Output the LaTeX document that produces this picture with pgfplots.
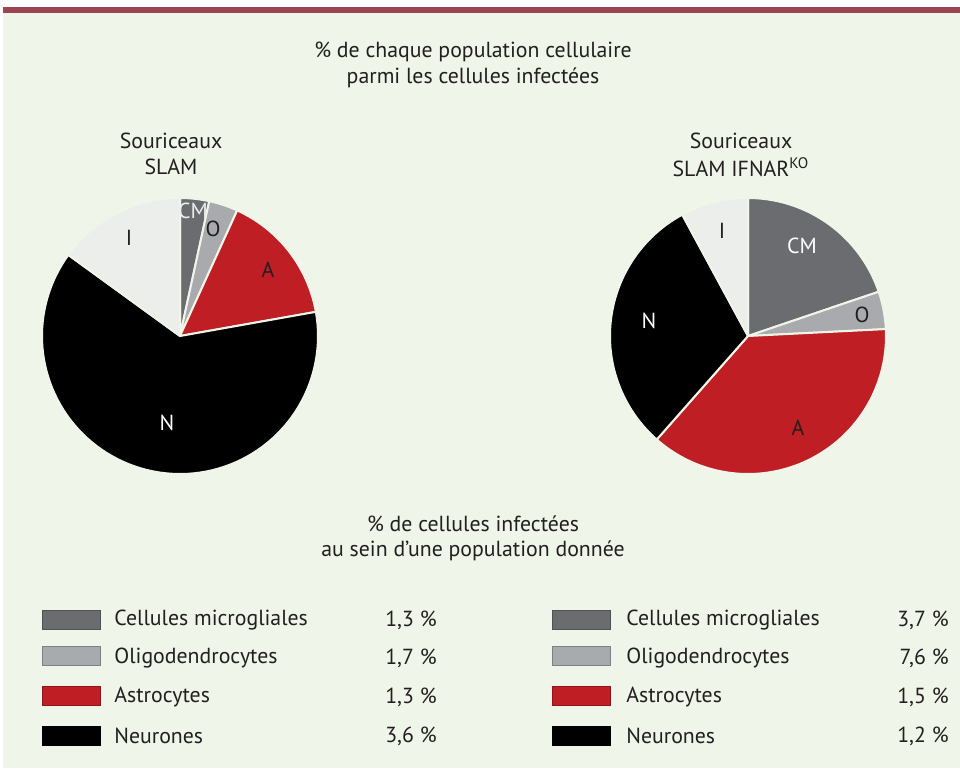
\documentclass[border=0pt]{standalone}
\usepackage{pgfplots}
\pgfplotsset{compat=1.18}
\usepackage{fontspec}
\setmainfont{PT Sans}
\definecolor{bg}{HTML}{EFF5E8}
\definecolor{topbar}{HTML}{9A4652}
\definecolor{cm}{HTML}{6B6C70}
\definecolor{ol}{HTML}{A8AAAD}
\definecolor{as}{HTML}{BE1E24}
\definecolor{ne}{HTML}{000000}
\definecolor{inf}{HTML}{ECEEEB}
\definecolor{txt}{HTML}{231F20}
% slice: cx, cy, r, start angle, end angle (deg, clockwise from top), colour
\newcommand{\slice}[6]{\addplot[fill=#6, draw=bg, line width=1pt, line join=round, domain=#4:#5, samples=90, variable=\t] ({#1+#3*sin(\t)},{#2-#3*cos(\t)}) -- (axis cs:#1,#2) -- cycle;}
% legend box: y top, x left, colour
\newcommand{\lbox}[3]{\addplot[fill=#3, draw=#3!75!black, line width=0.4pt] coordinates {(#2,#1) (#2+58,#1) (#2+58,#1+19) (#2,#1+19)} -- cycle;}
\begin{document}
\begin{tikzpicture}
\begin{axis}[width=480pt, height=384pt, scale only axis, xmin=0, xmax=960, ymin=0, ymax=768, y dir=reverse, hide axis, clip=false]
\fill[white] (axis cs:0,0) rectangle (axis cs:960,768);
\fill[bg] (axis cs:3,13) rectangle (axis cs:960,768);
\fill[topbar] (axis cs:3,7) rectangle (axis cs:960,13);
% Left pie (SLAM): CM 3.4, O 3.4, A 15.4, N 62.8, I 15.0 (%)
\slice{180}{336}{138}{0}{12.24}{cm}
\slice{180}{336}{138}{12.24}{24.48}{ol}
\slice{180}{336}{138}{24.48}{79.92}{as}
\slice{180}{336}{138}{79.92}{306}{ne}
\slice{180}{336}{138}{306}{360}{inf}
% Right pie (SLAM IFNAR KO): CM 19.8, O 4.4, A 37.3, N 30.6, I 7.9 (%)
\slice{748}{336}{138}{0}{71.28}{cm}
\slice{748}{336}{138}{71.28}{87.12}{ol}
\slice{748}{336}{138}{87.12}{221.4}{as}
\slice{748}{336}{138}{221.4}{331.56}{ne}
\slice{748}{336}{138}{331.56}{360}{inf}
% legend boxes
\lbox{610}{42}{cm}
\lbox{646}{42}{ol}
\lbox{686}{42}{as}
\lbox{726}{42}{ne}
\lbox{610}{552}{cm}
\lbox{646}{552}{ol}
\lbox{686}{552}{as}
\lbox{726}{552}{ne}
\begin{scope}[every node/.style={font=\fontsize{10.9}{13}\selectfont, text=txt, inner sep=0pt}]
\node at (axis cs:473,52) {\% de chaque population cellulaire};
\node at (axis cs:473,78) {parmi les cellules infectées};
\node at (axis cs:171,141) {Souriceaux};
\node at (axis cs:171,167) {SLAM};
\node at (axis cs:741,141) {Souriceaux};
\node at (axis cs:741,167) {SLAM IFNAR\textsuperscript{KO}};
\node at (axis cs:473,524) {\% de cellules infectées};
\node at (axis cs:473,551) {au sein d’une population donnée};
% pie labels
\node[text=inf] at (axis cs:193,211) {CM};
\node at (axis cs:213,229) {O};
\node at (axis cs:268,270) {A};
\node[text=white] at (axis cs:167,423) {N};
\node at (axis cs:129,238) {I};
\node[text=white] at (axis cs:802,246) {CM};
\node at (axis cs:862,315) {O};
\node at (axis cs:798,428) {A};
\node[text=white] at (axis cs:649,321) {N};
\node at (axis cs:722,231) {I};
% legend texts
\node[anchor=west] at (axis cs:114,620) {Cellules microgliales};
\node[anchor=west] at (axis cs:114,658) {Oligodendrocytes};
\node[anchor=west] at (axis cs:114,697) {Astrocytes};
\node[anchor=west] at (axis cs:114,736) {Neurones};
\node[anchor=east] at (axis cs:437,620) {1,3 \%};
\node[anchor=east] at (axis cs:437,658) {1,7 \%};
\node[anchor=east] at (axis cs:437,697) {1,3 \%};
\node[anchor=east] at (axis cs:437,736) {3,6 \%};
\node[anchor=west] at (axis cs:626,620) {Cellules microgliales};
\node[anchor=west] at (axis cs:626,658) {Oligodendrocytes};
\node[anchor=west] at (axis cs:626,697) {Astrocytes};
\node[anchor=west] at (axis cs:626,736) {Neurones};
\node[anchor=east] at (axis cs:949,620) {3,7 \%};
\node[anchor=east] at (axis cs:949,658) {7,6 \%};
\node[anchor=east] at (axis cs:949,697) {1,5 \%};
\node[anchor=east] at (axis cs:949,736) {1,2 \%};
\end{scope}
\end{axis}
\end{tikzpicture}
\end{document}
